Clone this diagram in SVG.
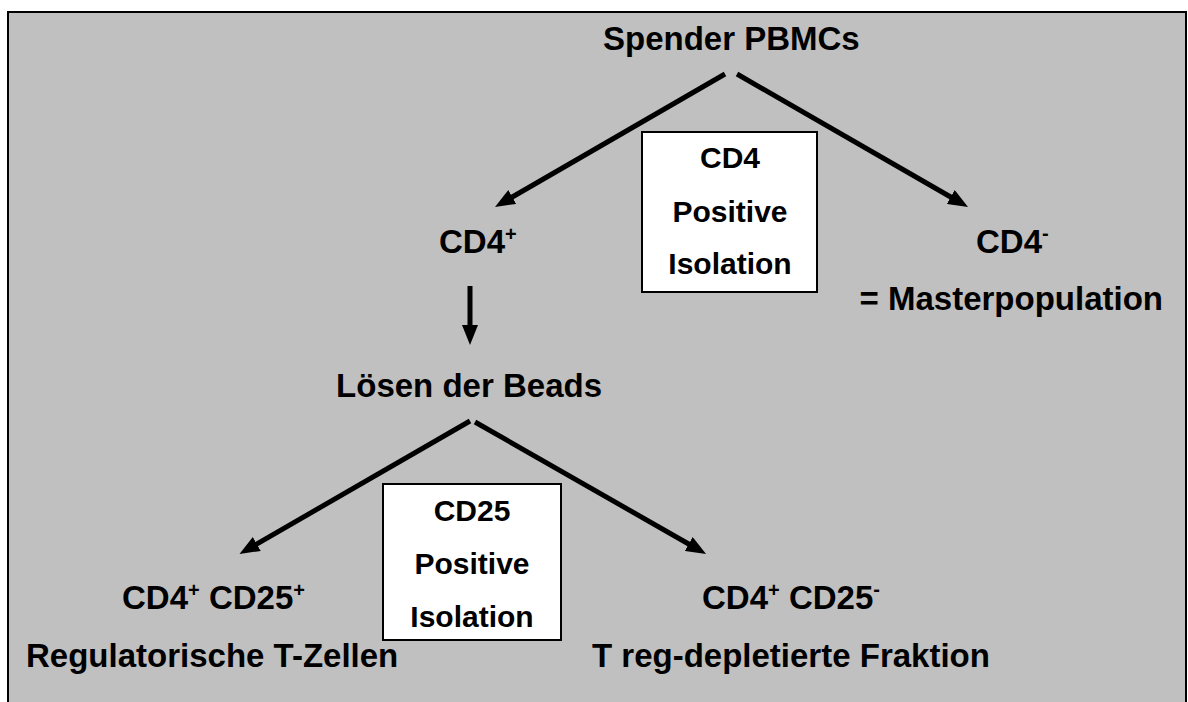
<svg xmlns="http://www.w3.org/2000/svg" width="1188" height="702" viewBox="0 0 1188 702">
<defs>
<marker id="ah" viewBox="0 0 20 16" refX="6" refY="8" markerWidth="20" markerHeight="16" orient="auto" markerUnits="userSpaceOnUse">
<path d="M0,0 L20,8 L0,16 z" fill="#000"/>
</marker>
<style>
text{font-family:"Liberation Sans",Arial,sans-serif;font-weight:bold;font-size:33px;fill:#000}
.c{text-anchor:middle}
.bt{font-size:30px;text-anchor:middle}
.sup{font-size:20px}
.box{fill:#fff;stroke:#000;stroke-width:2}
.conn line{stroke:#000;stroke-width:5;marker-end:url(#ah)}
</style>
</defs>
<rect x="8" y="12" width="1178" height="720" fill="#c0c0c0" stroke="#000" stroke-width="2"/>
<g class="conn" id="connectors">
<line x1="725" y1="74" x2="507.1" y2="200"/>
<line x1="737" y1="74" x2="955.9" y2="200"/>
<line x1="470" y1="286" x2="470" y2="331"/>
<line x1="470" y1="421" x2="251.6" y2="547"/>
<line x1="475" y1="422" x2="693.9" y2="547"/>
</g>
<g id="n-spender"><text x="603" y="50">Spender PBMCs</text></g>
<g id="n-cd4box"><rect class="box" x="642" y="132" width="175" height="160"/>
<text class="bt" x="730" y="168">CD4</text><text class="bt" x="730" y="222">Positive</text><text class="bt" x="730" y="274">Isolation</text></g>
<g id="n-cd4pos"><text x="439" y="253">CD4<tspan class="sup" dy="-12">+</tspan></text></g>
<g id="n-cd4neg"><text x="976" y="253">CD4<tspan class="sup" dy="-13">-</tspan></text><text x="1163" y="310" text-anchor="end">= Masterpopulation</text></g>
<g id="n-loesen"><text x="602" y="397" text-anchor="end">Lösen der Beads</text></g>
<g id="n-cd25box"><rect class="box" x="383" y="484" width="178" height="156"/>
<text class="bt" x="472" y="521">CD25</text><text class="bt" x="472" y="574">Positive</text><text class="bt" x="472" y="627">Isolation</text></g>
<g id="n-treg"><text x="122" y="609">CD4<tspan class="sup" dy="-12">+</tspan><tspan dy="12"> CD25</tspan><tspan class="sup" dy="-12">+</tspan></text><text x="26" y="667">Regulatorische T-Zellen</text></g>
<g id="n-depl"><text x="702" y="609">CD4<tspan class="sup" dy="-12">+</tspan><tspan dy="12"> CD25</tspan><tspan class="sup" dy="-13">-</tspan></text><text x="592" y="667">T reg-depletierte Fraktion</text></g>
</svg>
